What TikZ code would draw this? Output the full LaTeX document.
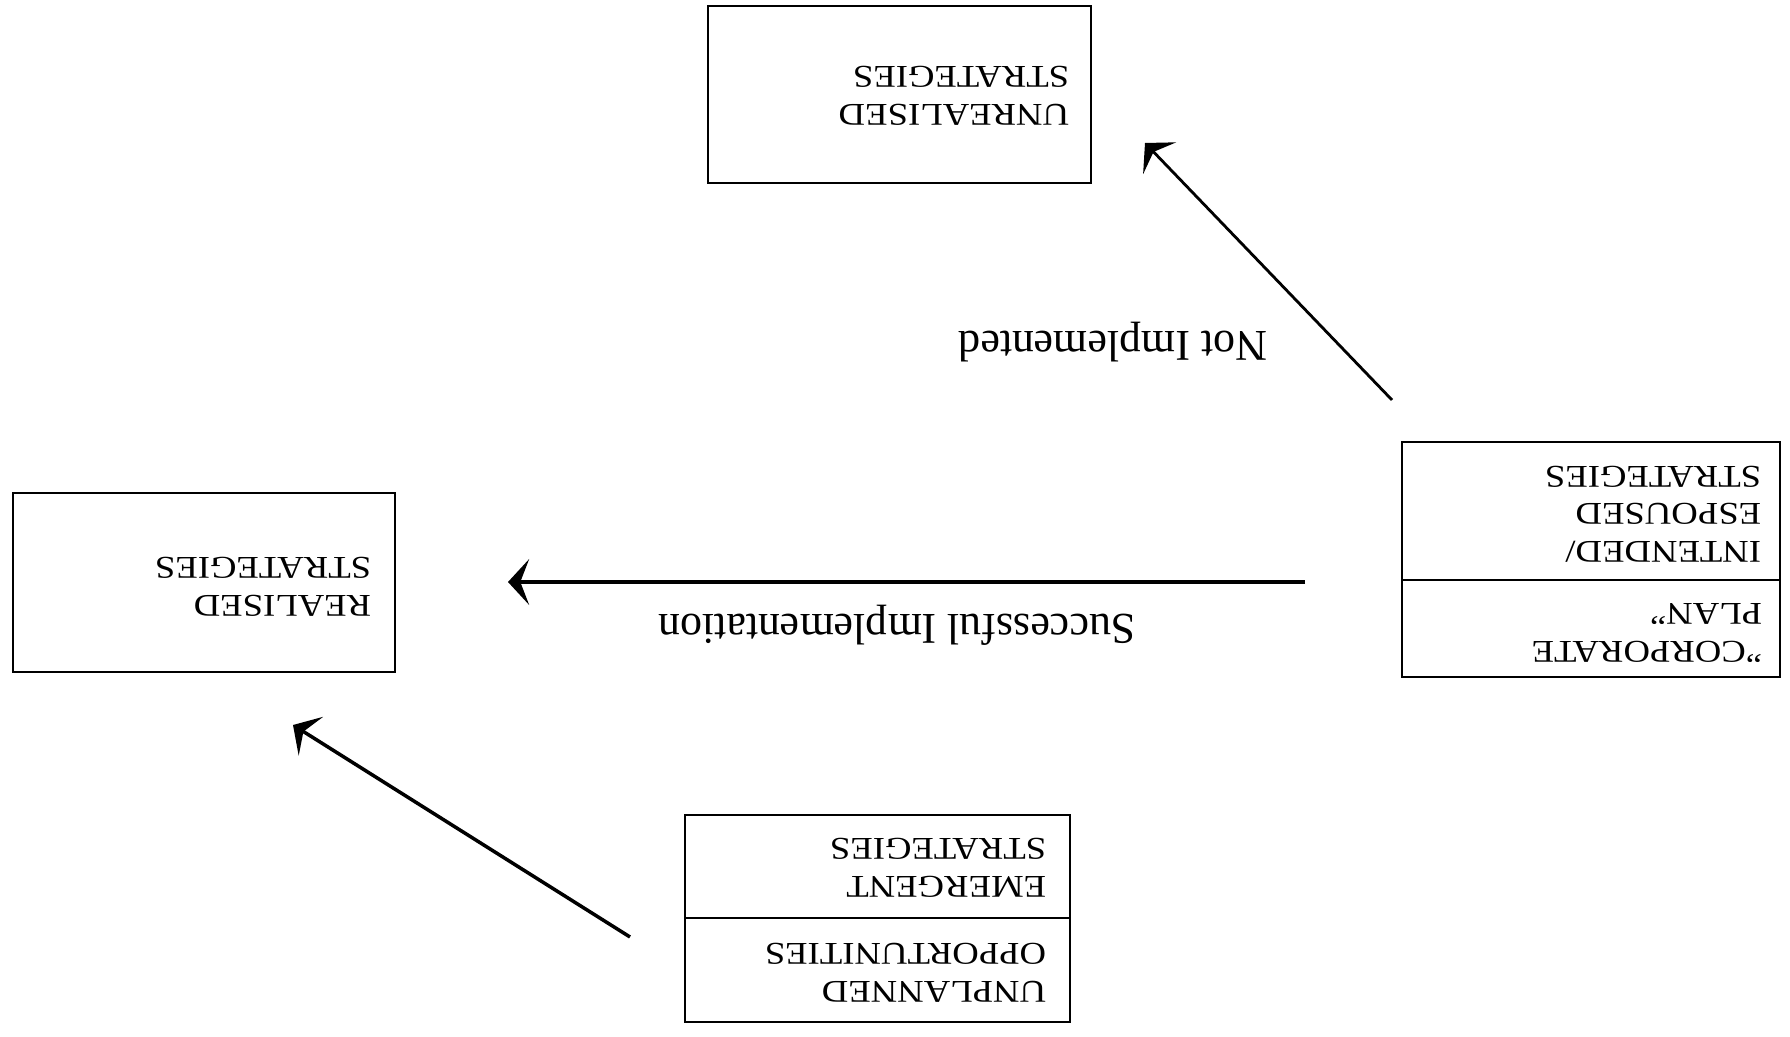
\documentclass[tikz,border=0pt]{standalone}
\usepackage{fontspec}
\setmainfont{Liberation Serif}
\usetikzlibrary{positioning,arrows.meta}
\tikzset{
box/.style={draw, line width=0.6pt, inner sep=0pt},
boxtext/.style={rotate=180, xscale=1.16, anchor=north west, inner sep=0pt, align=left, font=\fontsize{9}{10.7}\selectfont},
lbl/.style={rotate=180, anchor=base, inner sep=0pt, font=\fontsize{12.5}{15}\selectfont},
arr/.style={line width=0.8pt, -{Stealth[length=6pt,width=13pt,inset=2.5pt]}}
}
\newcommand{\boxat}[5]{\node[box, minimum width=#3, minimum height=#4] (#1) at (#2) {};}

\begin{document}
\begin{tikzpicture}[x=0.01cm, y=-0.01cm]
\useasboundingbox (0,0) rectangle (1790,1037);

% boxes
\boxat{unrealised}{899.5,94.5}{3.83cm}{1.77cm}{}
\boxat{intended}{1591,511}{3.78cm}{1.38cm}{}
\boxat{plan}{1591,628.5}{3.78cm}{0.97cm}{}
\boxat{realised}{204,582.5}{3.82cm}{1.79cm}{}
\boxat{emergent}{877.5,866.5}{3.85cm}{1.03cm}{}
\boxat{unplanned}{877.5,970}{3.85cm}{1.04cm}{}

% texts, upside down
\node[boxtext] (unrealised-t) at (1070,126) {UNREALISED\\STRATEGIES};
\node[boxtext] (intended-t) at (1762,563) {INTENDED/\\ESPOUSED\\STRATEGIES};
\node[boxtext] (plan-t) at (1763,663) {"CORPORATE\\PLAN"};
\node[boxtext] (realised-t) at (372,617) {REALISED\\STRATEGIES};
\node[boxtext] (emergent-t) at (1047,898) {EMERGENT\\STRATEGIES};
\node[boxtext] (unplanned-t) at (1047,1003) {UNPLANNED\\OPPORTUNITIES};

% connectors
\coordinate (impl-a) at (1305,582);
\coordinate (impl-b) at (508,582);
\coordinate (not-a) at (1392,400);
\coordinate (not-b) at (1145,143);
\coordinate (emg-a) at (630,937);
\coordinate (emg-b) at (293,725);

\draw[arr, line width=1.2pt] (impl-a) -- (impl-b);
\draw[arr] (not-a) -- (not-b);
\draw[arr, line width=1pt] (emg-a) -- (emg-b);

\node[lbl] (impl-l) at (897,615) {Successful Implementation};
\node[lbl] (not-l) at (1113,332) {Not Implemented};
\end{tikzpicture}
\end{document}
